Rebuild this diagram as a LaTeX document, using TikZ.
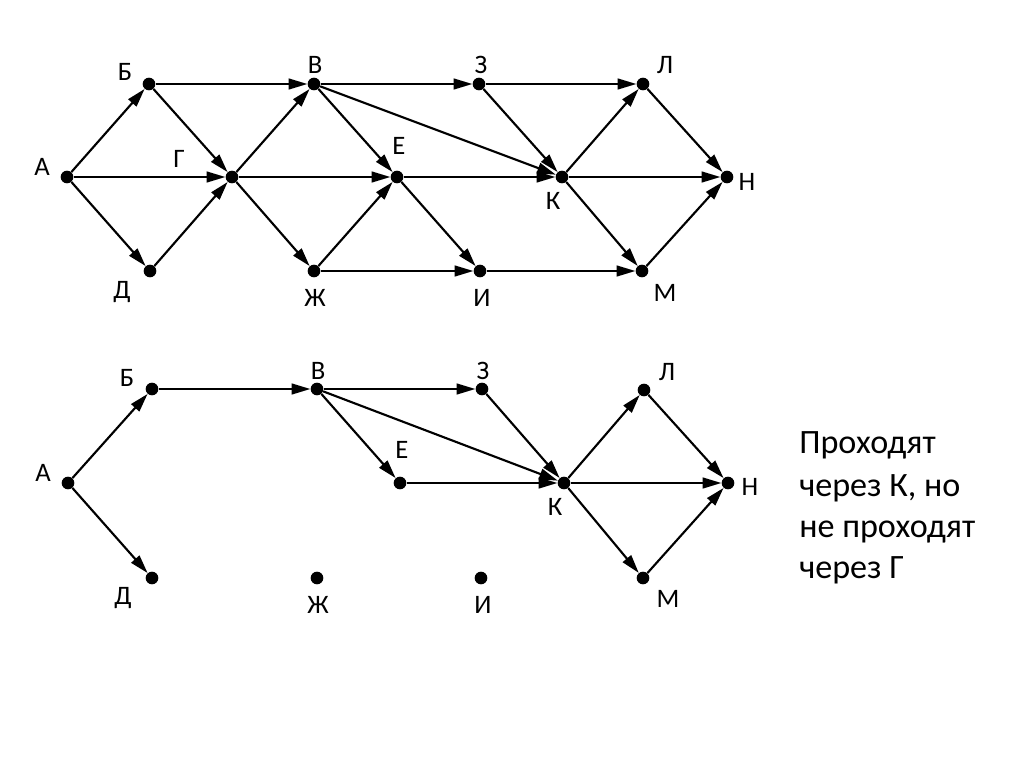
\documentclass[tikz,border=0pt]{standalone}
\usepackage{fontspec}
\setmainfont{Carlito}
\usetikzlibrary{arrows.meta}
\begin{document}
\begin{tikzpicture}[x=0.75pt,y=-0.75pt,
  dot/.style={circle,fill=black,inner sep=0pt,minimum size=9.5pt},
  lbl/.style={font=\fontsize{20}{22}\selectfont,inner sep=0pt},
  arr/.style={line width=1.6pt,-{Triangle[length=14pt,width=8pt]}},
  note/.style={font=\fontsize{25.6}{30}\selectfont,anchor=base west,inner sep=0pt}]
\useasboundingbox[fill=white] (0,0) rectangle (1024,767);
% ---------- top graph ----------
\node[dot] (tA)  at (67,177) {};
\node[dot] (tB)  at (149,84) {};
\node[dot] (tG)  at (232,177) {};
\node[dot] (tD)  at (150,271) {};
\node[dot] (tV)  at (314,84) {};
\node[dot] (tE)  at (397,177) {};
\node[dot] (tZh) at (314,271) {};
\node[dot] (tZ)  at (479,84) {};
\node[dot] (tK)  at (562,177) {};
\node[dot] (tI)  at (480,271) {};
\node[dot] (tL)  at (643,84) {};
\node[dot] (tN)  at (727,177) {};
\node[dot] (tM)  at (642,271) {};
\node[lbl] (ltA)  at (42,167) {А};
\node[lbl] (ltB)  at (125,72) {Б};
\node[lbl] (ltG)  at (179,159) {Г};
\node[lbl] (ltD)  at (122,292) {Д};
\node[lbl] (ltV)  at (315,65) {В};
\node[lbl] (ltE)  at (399,146) {Е};
\node[lbl] (ltZh) at (315,298) {Ж};
\node[lbl] (ltZ)  at (481,65) {З};
\node[lbl] (ltK)  at (553,201) {К};
\node[lbl] (ltI)  at (482,298) {И};
\node[lbl] (ltL)  at (665,65) {Л};
\node[lbl] (ltN)  at (747,182) {Н};
\node[lbl] (ltM)  at (665,293) {М};
\draw[arr] (tA) -- (tB);
\draw[arr] (tA) -- (tG);
\draw[arr] (tA) -- (tD);
\draw[arr] (tB) -- (tV);
\draw[arr] (tB) -- (tG);
\draw[arr] (tD) -- (tG);
\draw[arr] (tG) -- (tV);
\draw[arr] (tG) -- (tE);
\draw[arr] (tG) -- (tZh);
\draw[arr] (tV) -- (tZ);
\draw[arr] (tV) -- (tE);
\draw[arr] (tV) -- (tK);
\draw[arr] (tZh) -- (tE);
\draw[arr] (tZh) -- (tI);
\draw[arr] (tE) -- (tK);
\draw[arr] (tE) -- (tI);
\draw[arr] (tZ) -- (tL);
\draw[arr] (tZ) -- (tK);
\draw[arr] (tK) -- (tL);
\draw[arr] (tK) -- (tN);
\draw[arr] (tK) -- (tM);
\draw[arr] (tI) -- (tM);
\draw[arr] (tL) -- (tN);
\draw[arr] (tM) -- (tN);
% ---------- bottom graph ----------
\node[dot] (bA)  at (68,483) {};
\node[dot] (bB)  at (152,389) {};
\node[dot] (bD)  at (152,578) {};
\node[dot] (bV)  at (317,389) {};
\node[dot] (bE)  at (400,483) {};
\node[dot] (bZh) at (317,578) {};
\node[dot] (bZ)  at (482,389) {};
\node[dot] (bI)  at (481,578) {};
\node[dot] (bK)  at (564,483) {};
\node[dot] (bL)  at (644,390) {};
\node[dot] (bN)  at (728,483) {};
\node[dot] (bM)  at (643,578) {};
\node[lbl] (lbA)  at (43,473) {А};
\node[lbl] (lbB)  at (127,378) {Б};
\node[lbl] (lbD)  at (123,598) {Д};
\node[lbl] (lbV)  at (318,371) {В};
\node[lbl] (lbE)  at (402,450) {Е};
\node[lbl] (lbZh) at (318,605) {Ж};
\node[lbl] (lbZ)  at (483,371) {З};
\node[lbl] (lbI)  at (483,605) {И};
\node[lbl] (lbK)  at (555,507) {К};
\node[lbl] (lbL)  at (667,372) {Л};
\node[lbl] (lbN)  at (750,487) {Н};
\node[lbl] (lbM)  at (668,599) {М};
\draw[arr] (bA) -- (bB);
\draw[arr] (bA) -- (bD);
\draw[arr] (bB) -- (bV);
\draw[arr] (bV) -- (bZ);
\draw[arr] (bV) -- (bE);
\draw[arr] (bV) -- (bK);
\draw[arr] (bE) -- (bK);
\draw[arr] (bZ) -- (bK);
\draw[arr] (bK) -- (bL);
\draw[arr] (bK) -- (bN);
\draw[arr] (bK) -- (bM);
\draw[arr] (bL) -- (bN);
\draw[arr] (bM) -- (bN);
% ---------- note ----------
\node[note] (n1) at (799,453) {Проходят};
\node[note] (n2) at (799,496) {через К, но};
\node[note] (n3) at (799,537) {не проходят};
\node[note] (n4) at (799,578) {через Г};
\end{tikzpicture}
\end{document}
